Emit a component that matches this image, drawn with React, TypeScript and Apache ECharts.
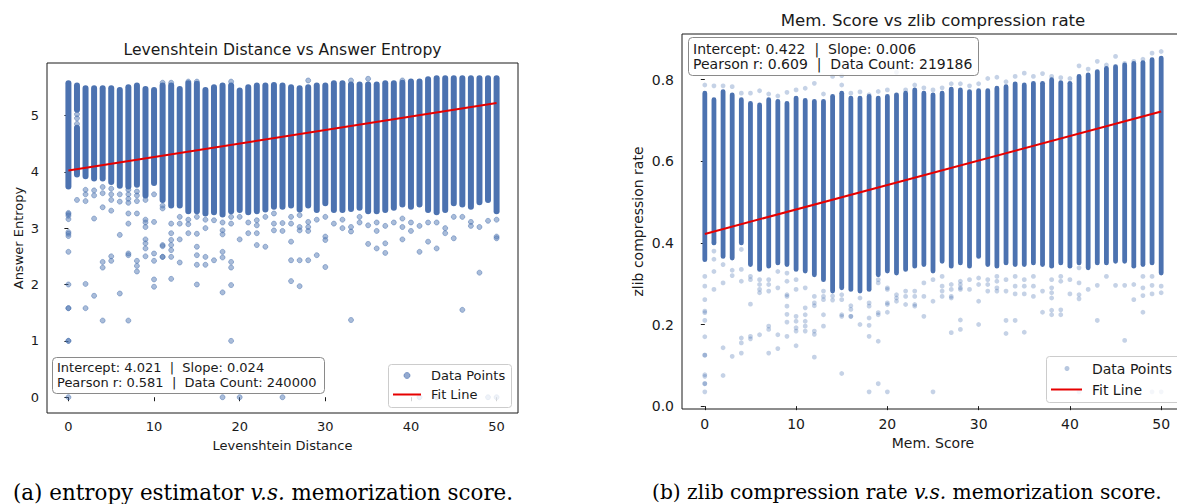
import React, { useEffect, useRef } from 'react';
import * as echarts from 'echarts';

const FONT = 'DejaVu Sans';
const SERIF = 'DejaVu Serif';
const BLUE = '#4c72b0';
const INK = '#1a1a1a';

// ---------------- data ----------------
const xTickValues = [0, 10, 20, 30, 40, 50];
const leftYTickValues = [0, 1, 2, 3, 4, 5];
const rightYTickValues = [0, 0.2, 0.4, 0.6, 0.8];

// Left panel: dense band of each Levenshtein-distance column (x = index)
const leftColumnLows = [3.74, 3.95, 3.92, 3.88, 3.88, 3.82, 3.75, 3.74, 3.77, 3.58, 3.8, 3.5, 3.4, 3.4, 3.3, 3.3, 3.26, 3.28, 3.24, 3.3, 3.32, 3.28, 3.3, 3.33, 3.38, 3.38, 3.4, 3.33, 3.4, 3.32, 3.44, 3.32, 3.32, 3.34, 3.36, 3.3, 3.3, 3.32, 3.36, 3.42, 3.38, 3.42, 3.32, 3.28, 3.32, 3.44, 3.42, 3.38, 3.46, 3.5, 3.3];
const leftColumnHighs = [5.57, 4.78, 5.48, 5.48, 5.48, 5.48, 5.45, 5.5, 5.53, 5.47, 5.45, 5.53, 5.53, 5.47, 5.57, 5.56, 5.45, 5.5, 5.53, 5.53, 5.44, 5.5, 5.53, 5.53, 5.54, 5.53, 5.5, 5.48, 5.5, 5.53, 5.53, 5.57, 5.57, 5.55, 5.55, 5.55, 5.55, 5.57, 5.57, 5.58, 5.6, 5.6, 5.64, 5.66, 5.66, 5.66, 5.66, 5.66, 5.66, 5.66, 5.66];
const leftExtraSegments = [[1, 5.1, 5.53]];
const leftOutlierGroups: [number, number[]][] = [
  [0, [3.27, 3.25, 3.22, 3.16, 2.93, 2.9, 2.86, 2.58, 2.0, 1.58, 1.58, 1.0, 1.0, 0.0]],
  [1, [3.5, 4.95, 4.85, 5.02]],
  [2, [3.68, 3.6, 3.48, 2.01, 1.58]],
  [3, [3.67, 3.58, 3.17, 1.8]],
  [4, [3.73, 3.62, 3.37, 2.4, 2.3, 1.36]],
  [5, [3.7, 3.6, 3.5, 3.31, 2.5, 2.42]],
  [6, [3.6, 3.47, 2.88, 1.84]],
  [7, [3.68, 3.6, 3.52, 3.45, 3.26, 3.08, 2.55, 2.52, 1.36]],
  [8, [3.65, 3.58, 3.48, 3.26, 2.42, 2.33, 2.23]],
  [9, [3.5, 3.15, 3.1, 3.02, 2.8, 2.73, 2.64, 2.5]],
  [10, [3.6, 3.11, 2.55, 2.42, 2.09, 1.96]],
  [11, [3.4, 3.35, 2.7, 2.68, 2.49, 2.49, 5.58]],
  [12, [3.08, 2.91, 2.79, 2.7, 2.61, 2.49, 2.1, 5.58]],
  [13, [3.2, 3.08, 2.8, 2.39]],
  [14, [3.15, 3.07, 2.91, 5.6]],
  [15, [3.2, 2.9, 2.67, 2.52, 2.35, 2.0, 5.6]],
  [16, [3.15, 3.0, 2.49, 2.35]],
  [17, [3.14, 2.43]],
  [18, [3.1, 2.96, 2.89, 2.58, 2.48, 1.86, 0.0]],
  [19, [3.2, 3.08, 2.4, 2.3, 1.99, 1.0, 5.6]],
  [20, [3.2, 2.8, 0.0]],
  [21, [3.1, 2.91]],
  [22, [3.14, 3.05, 2.91, 2.7]],
  [23, [3.2, 2.67]],
  [24, [3.26, 3.08, 2.96]],
  [25, [3.09, 2.95, 0.0]],
  [26, [3.2, 3.08, 2.76, 2.43, 2.06]],
  [27, [3.23, 3.02, 2.96, 2.43, 1.97]],
  [28, [3.11, 3.02, 2.95, 2.43, 5.62]],
  [29, [3.15, 2.52]],
  [30, [3.2, 2.85, 2.79, 2.31]],
  [31, [3.08]],
  [32, [3.15, 3.0]],
  [33, [3.02, 2.94, 1.37, 5.62]],
  [34, [3.2, 3.1]],
  [35, [3.05, 2.72, 5.65]],
  [36, [3.1, 2.95, 2.64]],
  [37, [3.04, 2.73, 2.56]],
  [38, [3.1]],
  [39, [3.17, 3.02, 2.8, 5.62]],
  [40, [3.1, 2.95]],
  [41, [3.04, 2.58, 0.0]],
  [42, [3.1, 2.76]],
  [43, [3.1, 2.64, 0.0]],
  [44, [3.0, 2.91]],
  [45, [3.2, 2.82]],
  [46, [3.2, 1.55]],
  [47, [3.11, 3.04]],
  [48, [3.02, 2.21]],
  [49, [3.13, 0.0]],
  [50, [3.15, 2.85, 2.82, 0.0]],
];
const leftFit = { intercept: 4.021, slope: 0.024, r: 0.581, count: 240000 };

// Right panel: dense band of each Mem. Score column
const rightColumnLows = [0.359, 0.4, 0.367, 0.363, 0.4, 0.347, 0.335, 0.343, 0.351, 0.347, 0.335, 0.331, 0.322, 0.31, 0.282, 0.29, 0.286, 0.282, 0.286, 0.322, 0.331, 0.326, 0.335, 0.343, 0.347, 0.331, 0.355, 0.343, 0.351, 0.343, 0.367, 0.347, 0.343, 0.351, 0.347, 0.347, 0.351, 0.347, 0.343, 0.351, 0.343, 0.351, 0.339, 0.351, 0.351, 0.355, 0.355, 0.343, 0.347, 0.351, 0.326];
const rightColumnHighs = [0.767, 0.751, 0.771, 0.763, 0.751, 0.742, 0.738, 0.751, 0.747, 0.742, 0.755, 0.749, 0.747, 0.747, 0.759, 0.767, 0.755, 0.755, 0.759, 0.755, 0.759, 0.763, 0.767, 0.775, 0.767, 0.763, 0.767, 0.777, 0.775, 0.771, 0.773, 0.773, 0.779, 0.783, 0.79, 0.787, 0.791, 0.791, 0.8, 0.793, 0.791, 0.808, 0.812, 0.82, 0.828, 0.832, 0.836, 0.84, 0.842, 0.849, 0.853];
const rightOutlierGroups: [number, number[]][] = [
  [0, [0.787, 0.318, 0.294, 0.261, 0.233, 0.229, 0.21, 0.17, 0.125, 0.125, 0.077, 0.073, 0.055, 0.055, 0.035]],
  [1, [0.785, 0.4, 0.38, 0.36, 0.33, 0.286]],
  [2, [0.785, 0.347, 0.302, 0.143, 0.075]],
  [3, [0.783, 0.333, 0.32, 0.122]],
  [4, [0.767, 0.384, 0.335, 0.306, 0.167, 0.155, 0.13]],
  [5, [0.767, 0.318, 0.31, 0.25, 0.171, 0.165]],
  [6, [0.773, 0.31, 0.298, 0.286, 0.278, 0.175]],
  [7, [0.765, 0.31, 0.298, 0.282, 0.196, 0.188, 0.13]],
  [8, [0.76, 0.33, 0.29, 0.175, 0.141]],
  [9, [0.769, 0.326, 0.306, 0.273, 0.269, 0.245, 0.225, 0.206, 0.171]],
  [10, [0.775, 0.31, 0.286, 0.22, 0.208, 0.192, 0.184, 0.148]],
  [11, [0.779, 0.29, 0.241, 0.224, 0.208, 0.196, 0.184]],
  [12, [0.791, 0.269, 0.253, 0.246, 0.184, 0.176, 0.12]],
  [13, [0.765, 0.282, 0.269, 0.261, 0.224, 0.196]],
  [14, [0.808, 0.27, 0.26]],
  [15, [0.81, 0.787, 0.273, 0.261, 0.224, 0.22, 0.08]],
  [16, [0.767, 0.246, 0.237, 0.22, 0.22]],
  [17, [0.77, 0.265, 0.2]],
  [18, [0.763, 0.253, 0.245, 0.216, 0.198, 0.171, 0.035]],
  [19, [0.771, 0.31, 0.302, 0.229, 0.224, 0.159, 0.055]],
  [20, [0.775, 0.29, 0.286, 0.253, 0.249, 0.23, 0.035]],
  [21, [0.818, 0.273, 0.265, 0.257]],
  [22, [0.775, 0.282, 0.269, 0.249]],
  [23, [0.787, 0.282, 0.269, 0.249, 0.245]],
  [24, [0.78, 0.302, 0.269, 0.22]],
  [25, [0.775, 0.31, 0.257, 0.035]],
  [26, [0.78, 0.318, 0.294, 0.282, 0.269]],
  [27, [0.79, 0.298, 0.286, 0.269, 0.265, 0.18]],
  [28, [0.79, 0.306, 0.298, 0.29, 0.286, 0.211, 0.188]],
  [29, [0.785, 0.31, 0.286]],
  [30, [0.79, 0.314, 0.298, 0.257, 0.2]],
  [31, [0.803, 0.31, 0.298, 0.282]],
  [32, [0.806, 0.318, 0.306, 0.29, 0.282]],
  [33, [0.795, 0.31, 0.282, 0.21, 0.178]],
  [34, [0.808, 0.318, 0.294, 0.275, 0.21]],
  [35, [0.816, 0.31, 0.294, 0.275, 0.181]],
  [36, [0.808, 0.318, 0.294, 0.269]],
  [37, [0.815, 0.282, 0.23]],
  [38, [0.808, 0.31, 0.29, 0.278, 0.265, 0.235, 0.224]],
  [39, [0.805, 0.318, 0.306, 0.236, 0.224]],
  [40, [0.803, 0.31, 0.275]],
  [41, [0.834, 0.339, 0.302, 0.273, 0.263, 0.035]],
  [42, [0.826, 0.286]],
  [43, [0.845, 0.296, 0.21]],
  [44, [0.836, 0.318]],
  [45, [0.857, 0.296]],
  [46, [0.84, 0.296, 0.161]],
  [47, [0.845, 0.298, 0.261]],
  [48, [0.85, 0.318, 0.29, 0.271, 0.23]],
  [49, [0.865, 0.318, 0.296, 0.275, 0.035]],
  [50, [0.869, 0.294, 0.278, 0.035]],
];
const rightFit = { intercept: 0.422, slope: 0.006, r: 0.609, count: 219186 };

const leftTitle = 'Levenshtein Distance vs Answer Entropy';
const rightTitle = 'Mem. Score vs zlib compression rate';
const leftStatLines = [
  `Intercept: ${leftFit.intercept.toFixed(3)}  |  Slope: ${leftFit.slope.toFixed(3)}`,
  `Pearson r: ${leftFit.r.toFixed(3)}  |  Data Count: ${leftFit.count}`,
];
const rightStatLines = [
  `Intercept: ${rightFit.intercept.toFixed(3)}  |  Slope: ${rightFit.slope.toFixed(3)}`,
  `Pearson r: ${rightFit.r.toFixed(3)}  |  Data Count: ${rightFit.count}`,
];

// ---------------- helpers ----------------
const segmentsFrom = (lows: number[], highs: number[], extra: number[][]) =>
  lows.map((lo, i) => [i, lo, highs[i]]).concat(extra);
const pointsFrom = (groups: [number, number[]][]) => {
  const out: number[][] = [];
  groups.forEach(([x, ys]) => ys.forEach((y) => out.push([x, y])));
  return out;
};
const fitLine = (f: { intercept: number; slope: number }) => [
  [0, f.intercept + f.slope * 0],
  [50, f.intercept + f.slope * 50],
];

const columnRenderer = (w: number) => (params: any, api: any) => {
  const x = api.value(0);
  const lo = api.value(1);
  const hi = api.value(2);
  const top = api.coord([x, hi]);
  const bot = api.coord([x, lo]);
  return {
    type: 'rect',
    shape: { x: top[0] - w / 2, y: top[1] - w / 2, width: w, height: bot[1] - top[1] + w, r: w / 2 },
    style: { fill: BLUE },
  };
};

const axisBase = (fs: number) => ({
  type: 'value',
  axisLine: { show: false },
  splitLine: { show: false },
  axisTick: { show: true, length: 4, lineStyle: { color: INK, width: 1 } },
  axisLabel: { color: INK, fontFamily: FONT, fontSize: fs },
  nameTextStyle: { color: INK, fontFamily: FONT, fontSize: fs },
});

export default function App() {
  const ref = useRef<HTMLDivElement>(null);
  useEffect(() => {
    if (!ref.current) return;
    const chart = echarts.init(ref.current, undefined, { renderer: 'svg' });

    const text = (x: number, y: number, t: string, fs: number, align = 'left', extra: any = {}) => ({
      type: 'text',
      x,
      y,
      z: 101,
      style: { text: t, fill: INK, fontFamily: FONT, fontSize: fs, align, verticalAlign: 'middle', ...extra },
    });

    const captionStyle = (fs: number) => ({
      fontFamily: SERIF, fill: '#000',
      rich: { it: { fontFamily: SERIF, fontSize: fs, fontStyle: 'italic', fill: '#000' } },
    });

    const option: any = {
      animation: false,
      backgroundColor: '#ffffff',
      grid: [
        { left: 47, top: 63, width: 471, height: 350, show: true, borderColor: INK, borderWidth: 1, backgroundColor: 'transparent', outerBoundsMode: 'none' },
        { left: 682, top: 34, width: 502, height: 375, show: true, borderColor: INK, borderWidth: 1, backgroundColor: 'transparent', outerBoundsMode: 'none' },
      ],
      xAxis: [
        {
          ...axisBase(13), gridIndex: 0, min: -2.5, max: 52.5,
          axisTick: { show: true, length: 4, lineStyle: { color: INK }, customValues: xTickValues },
          axisLabel: { color: INK, fontFamily: FONT, fontSize: 13, margin: 7, customValues: xTickValues },
          name: 'Levenshtein Distance', nameLocation: 'middle', nameGap: 26,
        },
        {
          ...axisBase(14), gridIndex: 1, min: -2.5, max: 52.5,
          axisTick: { show: true, length: 4, lineStyle: { color: INK }, customValues: xTickValues },
          axisLabel: { color: INK, fontFamily: FONT, fontSize: 14, margin: 8, customValues: xTickValues },
          name: 'Mem. Score', nameLocation: 'middle', nameGap: 27,
        },
      ],
      yAxis: [
        {
          ...axisBase(13), gridIndex: 0, min: -0.28, max: 5.93,
          axisTick: { show: true, length: 4, lineStyle: { color: INK }, customValues: leftYTickValues },
          axisLabel: { color: INK, fontFamily: FONT, fontSize: 13, margin: 8, customValues: leftYTickValues },
          name: 'Answer Entropy', nameLocation: 'middle', nameGap: 22,
        },
        {
          ...axisBase(14), gridIndex: 1, min: -0.007, max: 0.912,
          axisTick: { show: true, length: 4, lineStyle: { color: INK }, customValues: rightYTickValues },
          axisLabel: { color: INK, fontFamily: FONT, fontSize: 14, margin: 8, customValues: rightYTickValues, formatter: (v: number) => v.toFixed(1) },
          name: 'zlib compression rate', nameLocation: 'middle', nameGap: 37,
        },
      ],
      series: [
        {
          type: 'custom', name: 'Data Points (dense, left)', xAxisIndex: 0, yAxisIndex: 0, z: 2,
          data: segmentsFrom(leftColumnLows, leftColumnHighs, leftExtraSegments),
          encode: { x: 0, y: [1, 2] }, renderItem: columnRenderer(6), clip: true,
        },
        {
          type: 'scatter', name: 'Data Points', xAxisIndex: 0, yAxisIndex: 0, z: 3,
          data: pointsFrom(leftOutlierGroups), symbolSize: 5,
          itemStyle: { color: 'rgba(76,114,176,0.6)', borderColor: 'rgba(76,114,176,0.6)', borderWidth: 1 },
        },
        {
          type: 'line', name: 'Fit Line', xAxisIndex: 0, yAxisIndex: 0, z: 4,
          data: fitLine(leftFit), symbol: 'none', lineStyle: { color: '#e60000', width: 2 },
        },
        {
          type: 'custom', name: 'Data Points (dense, right)', xAxisIndex: 1, yAxisIndex: 1, z: 2,
          data: segmentsFrom(rightColumnLows, rightColumnHighs, []),
          encode: { x: 0, y: [1, 2] }, renderItem: columnRenderer(4.8), clip: true,
        },
        {
          type: 'scatter', name: 'Data Points', xAxisIndex: 1, yAxisIndex: 1, z: 3,
          data: pointsFrom(rightOutlierGroups), symbolSize: 4.8,
          itemStyle: { color: 'rgba(76,114,176,0.4)', borderWidth: 0 },
        },
        {
          type: 'line', name: 'Fit Line', xAxisIndex: 1, yAxisIndex: 1, z: 4,
          data: fitLine(rightFit), symbol: 'none', lineStyle: { color: '#e60000', width: 2 },
        },
      ],
      graphic: [
        // titles
        text(282.5, 50, leftTitle, 15.6, 'center'),
        text(933, 20.5, rightTitle, 16.6, 'center'),
        // left stats box
        { type: 'rect', z: 100, shape: { x: 52.5, y: 357.5, width: 272, height: 36, r: 4 }, style: { fill: 'rgba(255,255,255,0.8)', stroke: '#8a8a8a', lineWidth: 1 } },
        text(57, 367, leftStatLines[0], 13),
        text(57, 382, leftStatLines[1], 13),
        // right stats box
        { type: 'rect', z: 100, shape: { x: 688.5, y: 37.5, width: 290, height: 38, r: 4 }, style: { fill: 'rgba(255,255,255,0.8)', stroke: '#8a8a8a', lineWidth: 1 } },
        text(693, 48.5, rightStatLines[0], 14),
        text(693, 64, rightStatLines[1], 14),
        // left legend
        { type: 'rect', z: 100, shape: { x: 388.5, y: 364.5, width: 123, height: 43, r: 3 }, style: { fill: 'rgba(255,255,255,0.8)', stroke: '#cccccc', lineWidth: 1 } },
        { type: 'circle', z: 101, shape: { cx: 407, cy: 375.5, r: 3 }, style: { fill: 'rgba(76,114,176,0.6)', stroke: 'rgba(76,114,176,0.6)', lineWidth: 1 } },
        text(431, 375.5, 'Data Points', 13),
        { type: 'line', z: 101, shape: { x1: 393, y1: 394.5, x2: 421, y2: 394.5 }, style: { stroke: '#e60000', lineWidth: 2 } },
        text(431, 394.5, 'Fit Line', 13),
        // right legend
        { type: 'rect', z: 100, shape: { x: 1046.5, y: 356.5, width: 150, height: 46, r: 3 }, style: { fill: 'rgba(255,255,255,0.8)', stroke: '#cccccc', lineWidth: 1 } },
        { type: 'circle', z: 101, shape: { cx: 1067, cy: 368.5, r: 2.5 }, style: { fill: 'rgba(76,114,176,0.4)' } },
        text(1092, 368.5, 'Data Points', 14),
        { type: 'line', z: 101, shape: { x1: 1051, y1: 389.5, x2: 1082, y2: 389.5 }, style: { stroke: '#e60000', lineWidth: 2 } },
        text(1092, 389.5, 'Fit Line', 14),
        // captions
        text(13, 492, '(a) entropy estimator {it|v.s.} memorization score.', 21.4, 'left', captionStyle(21.4)),
        text(652, 492, '(b) zlib compression rate {it|v.s.} memorization score.', 20.2, 'left', captionStyle(20.2)),
      ],
    };
    chart.setOption(option);
    return () => chart.dispose();
  }, []);

  return (
    <div
      ref={ref}
      style={{ position: 'absolute', left: 0, top: 0, width: 1177, height: 504, background: '#fff' }}
    />
  );
}
